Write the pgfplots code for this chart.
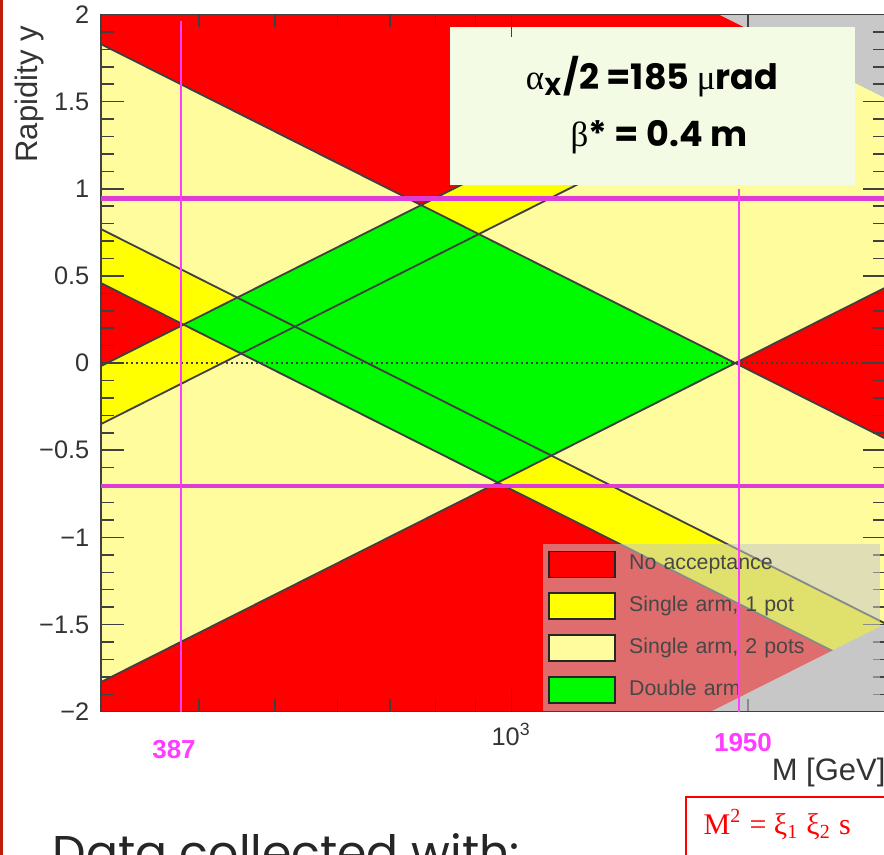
\documentclass[border=0pt]{standalone}
\usepackage{fontspec}
\setmainfont{Liberation Sans}
\newfontfamily\serifgreek{Liberation Serif}
\newfontfamily\gothic{Poppins}
\usepackage{pgfplots}
\pgfplotsset{compat=1.18}
\definecolor{lyel}{RGB}{255,252,158}
\definecolor{byel}{RGB}{255,255,0}
\definecolor{rred}{RGB}{255,0,0}
\definecolor{ggreen}{RGB}{0,250,0}
\definecolor{ggray}{RGB}{200,200,200}
\definecolor{mag}{RGB}{222,60,212}
\definecolor{magv}{RGB}{255,60,255}
\definecolor{boxbg}{RGB}{243,251,228}
\definecolor{slidered}{RGB}{190,30,10}
\begin{document}
\begin{tikzpicture}
\begin{axis}[
  set layers, axis on top,
  at={(30.3pt,42.99pt)}, anchor=south west,
  scale only axis, width=235.5pt, height=209.16pt,
  xmode=log, xmin=300, xmax=3000, ymin=-2, ymax=2,
  axis background/.style={fill=lyel},
  axis line style={black!75, line width=0.45pt},
  tick style={black!75, line width=0.45pt},
  major tick length=6.8pt, minor tick length=3.8pt,
  tick align=inside,
  xtick={1000}, xticklabels={10\textsuperscript{3}},
  minor xtick={400,500,600,700,800,900,2000},
  ytick={-2,-1.5,-1,-0.5,0,0.5,1,1.5,2},
  yticklabels={−2,−1.5,−1,−0.5,0,0.5,1,1.5,2},
  minor y tick num=4,
  ticklabel style={font=\fontsize{7.6}{9}\selectfont, text=black!80},
  xlabel={M [GeV]}, ylabel={Rapidity y},
  xlabel style={at={(axis description cs:0.8395,-0.098)}, anchor=base west, font=\fontsize{9.3}{11}\selectfont, text=black!80},
  ylabel style={at={(axis description cs:-0.0815,1)}, anchor=base east, font=\fontsize{9.3}{11}\selectfont, text=black!80},
  legend style={at={(rel axis cs:0.5618,0.242)}, anchor=north west, fill=black!22, fill opacity=0.55, draw=none, text opacity=1, text=black!72, font=\fontsize{6.4}{7.5}\selectfont, inner xsep=1.5pt, inner ysep=2.1pt, row sep=4.2pt, column sep=3.9pt, nodes={text width=73.6pt, inner sep=0pt}},
  legend cell align=left,
  legend image code/.code={\draw[#1, draw=black!85, fill opacity=1, line width=0.55pt] (0pt,-3.9pt) rectangle (20pt,3.9pt);},
]
\addlegendimage{fill=rred}\addlegendentry{No acceptance}
\addlegendimage{fill=byel}\addlegendentry{Single arm, 1 pot}
\addlegendimage{fill=lyel}\addlegendentry{Single arm, 2 pots}
\addlegendimage{fill=ggreen}\addlegendentry{Double arm}

% single arm, 1 pot bands
\addplot[fill=byel, draw=none, forget plot] coordinates {(300,0.7688) (3000,-1.4962) (3000,-1.806) (300,0.459)} -- cycle;
\addplot[fill=byel, draw=none, forget plot] coordinates {(300,-0.0172) (3000,2.2478) (3000,1.915) (300,-0.35)} -- cycle;
% no acceptance
\addplot[fill=rred, draw=none, forget plot] coordinates {(300,2.5) (300,1.8302) (767.2,0.9065) (3000,2.2478) (3000,2.5)} -- cycle;
\addplot[fill=rred, draw=none, forget plot] coordinates {(300,-2.5) (300,-1.8302) (960.4,-0.6856) (3000,-1.806) (3000,-2.5)} -- cycle;
\addplot[fill=rred, draw=none, forget plot] coordinates {(300,0.459) (382.2,0.2209) (300,-0.0172)} -- cycle;
\addplot[fill=rred, draw=none, forget plot] coordinates {(3000,0.4348) (1928.3,0) (3000,-0.4348)} -- cycle;
% double arm
\addplot[fill=ggreen, draw=none, forget plot] coordinates {(767.2,0.9065) (1928.3,0) (960.4,-0.6856) (382.2,0.2209)} -- cycle;
% y = 0
\addplot[black!75, line width=0.45pt, dash pattern=on 0.6pt off 0.9pt, forget plot] coordinates {(300,0) (3000,0)};
% acceptance boundaries
\addplot[black!75, line width=0.55pt, forget plot] coordinates {(300,1.8302) (3000,-0.4348)};
\addplot[black!75, line width=0.55pt, forget plot] coordinates {(300,0.7688) (3000,-1.4962)};
\addplot[black!75, line width=0.55pt, forget plot] coordinates {(300,0.459) (3000,-1.806)};
\addplot[black!75, line width=0.55pt, forget plot] coordinates {(300,-0.0172) (3000,2.2478)};
\addplot[black!75, line width=0.55pt, forget plot] coordinates {(300,-0.35) (3000,1.915)};
\addplot[black!75, line width=0.55pt, forget plot] coordinates {(300,-1.8302) (3000,0.4348)};
% kinematic limits
\addplot[fill=ggray, draw=none, forget plot] coordinates {(1838,2) (3000,1.5181) (3000,2)} -- cycle;
\addplot[fill=ggray, draw=none, forget plot] coordinates {(1794.7,-2) (3000,-1.4946) (3000,-2)} -- cycle;
% annotations
\addplot[mag, line width=1.3pt, forget plot, on layer=axis foreground] coordinates {(300,0.945) (3000,0.945)};
\addplot[mag, line width=1.3pt, forget plot, on layer=axis foreground] coordinates {(300,-0.704) (3000,-0.704)};
\addplot[magv, line width=0.8pt, forget plot, on layer=axis foreground] coordinates {(379.3,1.962) (379.3,-2)};
\addplot[magv, line width=0.8pt, forget plot, on layer=axis foreground] coordinates {(1949.6,1.0) (1949.6,-2)};
\end{axis}
\draw[slidered, line width=1pt] (0.45pt,0pt) -- (0.45pt,256.5pt);
\fill[boxbg] (135pt,248.4pt) rectangle (256.5pt,201pt);
\node[anchor=base, inner sep=0pt, font=\gothic\bfseries\fontsize{10.5}{12}\selectfont] at (195.6pt,229.5pt) {{\serifgreek\mdseries α}\textsubscript{X}/2 =185 {\serifgreek\mdseries μ}rad};
\node[anchor=base, inner sep=0pt, font=\gothic\bfseries\fontsize{10.5}{12}\selectfont] at (197.7pt,212.4pt) {{\serifgreek\mdseries β}* = 0.4 m};
\node[anchor=base, inner sep=0pt, text=magv, font=\bfseries\fontsize{7.8}{9}\selectfont] at (52.2pt,28.8pt) {387};
\node[anchor=base, inner sep=0pt, text=magv, font=\bfseries\fontsize{7.8}{9}\selectfont] at (222.9pt,30.9pt) {1950};
\node[anchor=base west, inner sep=0pt, text=black!85, font=\gothic\fontsize{14.2}{17}\selectfont] at (15.6pt,-4.5pt) {Data collected with:};
\draw[red, line width=0.6pt, fill=white] (205.8pt,17.4pt) rectangle (270pt,-7.5pt);
\node[anchor=base west, inner sep=0pt, text=red, font=\serifgreek\fontsize{9}{10}\selectfont] at (210.9pt,6pt) {M\textsuperscript{2} = ξ\textsubscript{1} ξ\textsubscript{2} s};
\pgfresetboundingbox
\path[use as bounding box] (0pt,0pt) rectangle (265.2pt,256.5pt);
\end{tikzpicture}
\end{document}
